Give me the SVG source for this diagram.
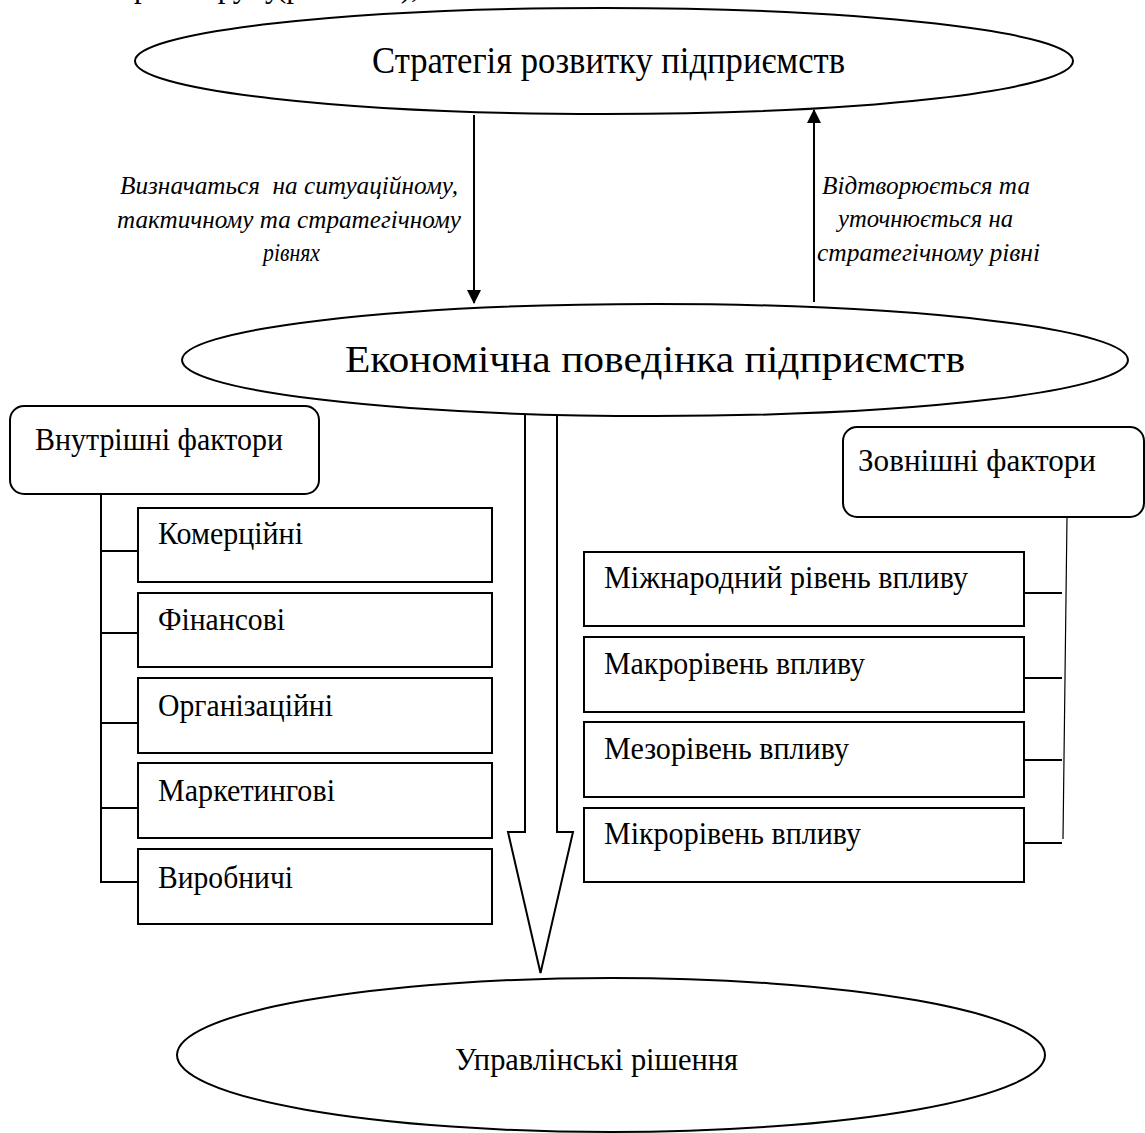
<svg xmlns="http://www.w3.org/2000/svg" width="1145" height="1133" viewBox="0 0 1145 1133">
<style>
.shape{fill:#fff;stroke:#000;stroke-width:2}
.t{font-family:"Liberation Serif","DejaVu Serif",serif;font-size:31px;fill:#000}
.big{font-size:37px}
.it{font-style:italic;font-size:26px}
.ln{fill:none;stroke:#000;stroke-width:2}
.thin{fill:none;stroke:#000;stroke-width:1.2}
</style>
<defs>
<marker id="ah" viewBox="0 0 14 14" markerWidth="14" markerHeight="14" refX="13" refY="7" orient="auto" markerUnits="userSpaceOnUse">
<path d="M0,0 L14,7 L0,14 z" fill="#000"/>
</marker>
</defs>
<rect width="1145" height="1133" fill="#fff"/>
<text class="t" font-size="28" y="-3"><tspan x="134">р</tspan><tspan x="205">групу</tspan><tspan x="276">(рис.</tspan><tspan x="362">1.2),</tspan></text>

<g id="connectors">
<line class="ln" x1="474" y1="115" x2="474" y2="303" marker-end="url(#ah)"/>
<line class="ln" x1="814" y1="302" x2="814" y2="110" marker-end="url(#ah)"/>
<path class="shape" stroke-width="1.5" d="M525,414 V832 H508 L540.5,973 L573,832 H557 V414"/>
<path class="ln" d="M101,494 V883 M101,551 H138 M101,633 H138 M101,723 H138 M101,808 H138 M101,882 H138"/>
<path class="ln" d="M1024,593 H1062 M1024,678 H1062 M1024,760 H1062 M1024,843 H1062"/>
<line class="thin" x1="1067" y1="517" x2="1063" y2="839"/>
</g>

<g id="labels">
<text class="t it" x="120" y="194" textLength="338" lengthAdjust="spacingAndGlyphs" style="white-space:pre">Визначаться  на ситуаційному,</text>
<text class="t it" x="117" y="228" textLength="344" lengthAdjust="spacingAndGlyphs">тактичному та стратегічному</text>
<text class="t it" x="263" y="261" textLength="57" lengthAdjust="spacingAndGlyphs">рівнях</text>
<text class="t it" x="822" y="194" textLength="208" lengthAdjust="spacingAndGlyphs">Відтворюється та</text>
<text class="t it" x="838" y="227" textLength="175" lengthAdjust="spacingAndGlyphs">уточнюється на</text>
<text class="t it" x="817" y="261" textLength="223" lengthAdjust="spacingAndGlyphs">стратегічному рівні</text>
</g>

<g id="strategy">
<ellipse class="shape" stroke-width="1.5" cx="604" cy="61" rx="469" ry="53"/>
<text class="t big" x="372" y="73" textLength="473" lengthAdjust="spacingAndGlyphs">Стратегія розвитку підприємств</text>
</g>

<g id="behavior">
<ellipse class="shape" stroke-width="3" cx="655" cy="360" rx="473" ry="56"/>
<text class="t big" x="345" y="372" textLength="620" lengthAdjust="spacingAndGlyphs">Економічна поведінка підприємств</text>
</g>

<g id="decisions">
<ellipse class="shape" stroke-width="1.5" cx="611" cy="1055" rx="434" ry="77"/>
<text class="t" font-size="30" x="455" y="1070" textLength="283" lengthAdjust="spacingAndGlyphs">Управлінські рішення</text>
</g>

<g id="internal">
<rect class="shape" x="10" y="406" width="309" height="88" rx="14"/>
<text class="t" x="35" y="450" textLength="248" lengthAdjust="spacingAndGlyphs">Внутрішні фактори</text>
</g>
<g id="external">
<rect class="shape" x="843" y="427" width="301" height="90" rx="14"/>
<text class="t" x="858" y="471" textLength="238" lengthAdjust="spacingAndGlyphs">Зовнішні фактори</text>
</g>

<g id="commercial"><rect class="shape" x="138" y="508" width="354" height="74"/><text class="t" x="158" y="544" textLength="145" lengthAdjust="spacingAndGlyphs">Комерційні</text></g>
<g id="financial"><rect class="shape" x="138" y="593" width="354" height="74"/><text class="t" x="158" y="630" textLength="127" lengthAdjust="spacingAndGlyphs">Фінансові</text></g>
<g id="organizational"><rect class="shape" x="138" y="678" width="354" height="75"/><text class="t" x="158" y="716" textLength="175" lengthAdjust="spacingAndGlyphs">Організаційні</text></g>
<g id="marketing"><rect class="shape" x="138" y="763" width="354" height="75"/><text class="t" x="158" y="801" textLength="177" lengthAdjust="spacingAndGlyphs">Маркетингові</text></g>
<g id="production"><rect class="shape" x="138" y="849" width="354" height="75"/><text class="t" x="158" y="888" textLength="135" lengthAdjust="spacingAndGlyphs">Виробничі</text></g>

<g id="international"><rect class="shape" x="584" y="552" width="440" height="74"/><text class="t" x="604" y="588" textLength="364" lengthAdjust="spacingAndGlyphs">Міжнародний рівень впливу</text></g>
<g id="macro"><rect class="shape" x="584" y="637" width="440" height="75"/><text class="t" x="604" y="674" textLength="261" lengthAdjust="spacingAndGlyphs">Макрорівень впливу</text></g>
<g id="meso"><rect class="shape" x="584" y="722" width="440" height="75"/><text class="t" x="604" y="759" textLength="245" lengthAdjust="spacingAndGlyphs">Мезорівень впливу</text></g>
<g id="micro"><rect class="shape" x="584" y="808" width="440" height="74"/><text class="t" x="604" y="844" textLength="257" lengthAdjust="spacingAndGlyphs">Мікрорівень впливу</text></g>
</svg>
